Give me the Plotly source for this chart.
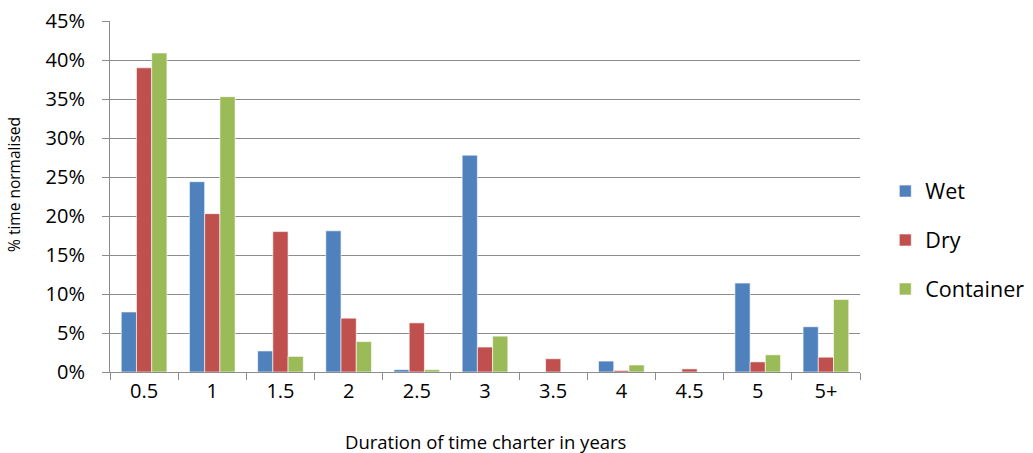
import plotly.graph_objects as go

categories = ["0.5", "1", "1.5", "2", "2.5", "3", "3.5", "4", "4.5", "5", "5+"]
wet = [0.077, 0.244, 0.027, 0.181, 0.003, 0.278, 0.0, 0.014, 0.0, 0.114, 0.058]
dry = [0.390, 0.203, 0.180, 0.069, 0.063, 0.032, 0.017, 0.002, 0.004, 0.013, 0.019]
container = [0.409, 0.353, 0.020, 0.039, 0.003, 0.046, 0.0, 0.009, 0.0, 0.022, 0.093]
y_ticks = [0, 0.05, 0.10, 0.15, 0.20, 0.25, 0.30, 0.35, 0.40, 0.45]

font = "'Open Sans', sans-serif"
series = [("Wet", wet, "#4F81BD"), ("Dry", dry, "#C0504D"), ("Container", container, "#9BBB59")]

fig = go.Figure()
for name, vals, col in series:
    fig.add_trace(go.Bar(
        x=categories, y=vals, name=name, legendgroup=name,
        marker=dict(color=col, line=dict(color="rgba(255,255,255,0.6)", width=1)),
    ))

fig.update_layout(
    width=1033, height=453,
    margin=dict(l=110, r=173, t=21, b=81),
    plot_bgcolor="white", paper_bgcolor="white",
    barmode="group", bargap=0.33, bargroupgap=0,
    font=dict(family=font, size=18, color="black"),
    legend=dict(
        xref="container", yref="container",
        x=0.857, xanchor="left", y=0.47, yanchor="middle",
        font=dict(size=21.5, family=font), traceorder="grouped",
        tracegroupgap=18, itemwidth=30,
    ),
    showlegend=True,
    annotations=[
        dict(text="Duration of time charter in years", x=0.5, y=-0.1966,
             xref="paper", yref="paper", showarrow=False,
             xanchor="center", yanchor="middle", font=dict(size=18.5, family=font)),
        dict(text="% time normalised", x=-0.128, y=0.533, textangle=-90,
             xref="paper", yref="paper", showarrow=False,
             xanchor="center", yanchor="middle", font=dict(size=15.5, family=font)),
    ],
)
fig.update_xaxes(
    type="category", showline=True, linecolor="#8c8c8c", linewidth=1,
    ticks="outside", tickson="boundaries", ticklen=7, tickcolor="#8c8c8c",
    showgrid=False, automargin=False, ticklabelstandoff=1,
    tickfont=dict(size=20, family=font),
)
fig.update_yaxes(
    range=[0, 0.45], tickvals=y_ticks, tickformat=".0%",
    showline=True, linecolor="#8c8c8c", linewidth=1,
    ticks="outside", ticklen=7, tickcolor="#8c8c8c",
    showgrid=True, gridcolor="#8c8c8c", gridwidth=1,
    zeroline=False, automargin=False, ticklabelstandoff=13,
    tickfont=dict(size=20, family=font),
)

fig.write_html(
    "out.html",
    config={"displayModeBar": False},
    post_script="document.body.style.margin='0px';document.body.style.overflow='hidden';",
)
